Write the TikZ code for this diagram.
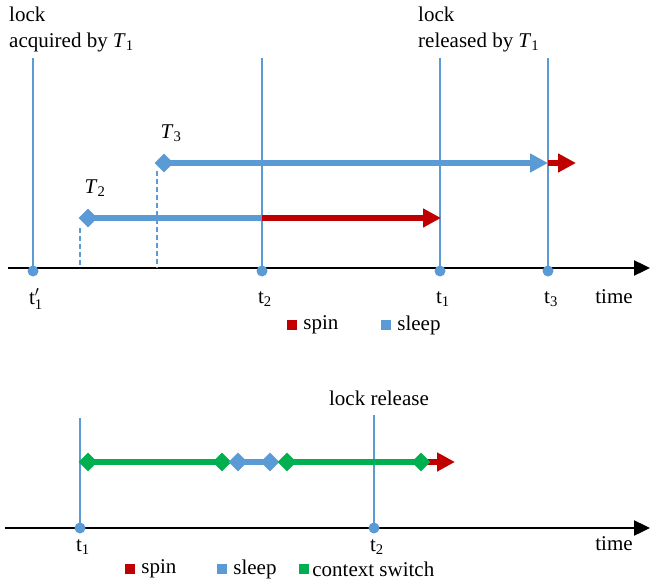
\documentclass[tikz,border=0pt]{standalone}
\usepackage{fontspec}
\setmainfont{Liberation Serif}
\usetikzlibrary{arrows.meta,shapes.geometric,positioning}
\definecolor{lkblue}{HTML}{5B9BD5}
\definecolor{lkred}{HTML}{C00000}
\definecolor{lkgreen}{HTML}{00B050}

\begin{document}
\begin{tikzpicture}[x=1pt, y=-1pt,
  font=\fontsize{21}{26}\selectfont,
  axis/.style={line width=2.4pt, -{Triangle[length=16pt,width=15pt]}},
  vline/.style={lkblue, line width=2.4pt},
  guide/.style={lkblue, line width=1.2pt, dashed, dash pattern=on 5pt off 3pt},
  dot/.style={circle, fill=lkblue, inner sep=0pt, minimum size=11pt},
  start/.style={diamond, fill=#1, inner sep=0pt, minimum size=19pt},
  seg/.style={#1, line width=6pt},
  tipseg/.style={#1, line width=6pt, -{Triangle[length=18pt,width=18pt]}},
  key/.style={fill=#1, inner sep=0pt, minimum size=10pt},
  lbl/.style={inner sep=1pt}
]
\useasboundingbox (0,0) rectangle (650,580);

% ---------- upper timeline
\coordinate (ax0) at (8,268);
\coordinate (ax1) at (650,268);
\draw[axis] (ax0) -- (ax1);

\node[dot] (p1) at (33,271) {};
\node[dot] (p2) at (262,271) {};
\node[dot] (p3) at (440,271) {};
\node[dot] (p4) at (548,271) {};
\coordinate (q1) at (33,58);
\coordinate (q2) at (262,58);
\coordinate (q3) at (440,58);
\coordinate (q4) at (548,58);
\foreach \i in {1,...,4}
  \draw[vline] (q\i) -- (p\i.center);

\node[lbl, anchor=north west, align=left] (acq) at (8,6)
  {lock\\acquired by \textit{T}\textsubscript{1}};
\node[lbl, anchor=north west, align=left] (rel) at (417,6)
  {lock\\released by \textit{T}\textsubscript{1}};

\node[lbl] (lp1) at (36,299) {$\mathrm{t}'_{\mathrm{1}}$};
\node[lbl] (lp2) at (265,299) {t\textsubscript{2}};
\node[lbl] (lp3) at (443,299) {t\textsubscript{1}};
\node[lbl] (lp4) at (551,299) {t\textsubscript{3}};
\node[lbl] (time1) at (614,297) {time};

% T2 and T3
\coordinate (s2) at (262,218);
\coordinate (e2) at (441,218);
\coordinate (s3) at (548,163);
\coordinate (e3) at (576,163);
\coordinate (g2) at (80,228);
\coordinate (g3) at (157,171);
\draw[guide] (g2) -- (g2 |- ax0);
\draw[guide] (g3) -- (g3 |- ax0);
\coordinate (d2) at (88,218);
\coordinate (d3) at (164,163);
\draw[seg=lkblue] (d2) -- (s2);
\draw[tipseg=lkred] (s2) -- (e2);
\draw[tipseg=lkblue] (d3) -- (s3);
\draw[tipseg=lkred] (s3) -- (e3);
\node[start=lkblue] (m2) at (d2) {};
\node[start=lkblue] (m3) at (d3) {};
\node[lbl] (t2) at (95,188) {\textit{T}\textsubscript{2}};
\node[lbl] (t3) at (171,133) {\textit{T}\textsubscript{3}};

% legend
\node[key=lkred] (kspin) at (292,325) {};
\node[lbl, right=5pt of kspin] {spin};
\node[key=lkblue] (ksleep) at (386,325) {};
\node[lbl, right=5pt of ksleep] {sleep};

% ---------- lower timeline
\coordinate (bx0) at (5,528);
\coordinate (bx1) at (650,528);
\draw[axis] (bx0) -- (bx1);

\node[dot] (r1) at (80,528) {};
\node[dot] (r2) at (374,528) {};
\coordinate (u1) at (80,418);
\coordinate (u2) at (374,415);
\draw[vline] (u1) -- (r1.center);
\draw[vline] (u2) -- (r2.center);
\node[lbl] (lrel) at (379,398) {lock release};

\node[lbl] (lr1) at (83,547) {t\textsubscript{1}};
\node[lbl] (lr2) at (377,547) {t\textsubscript{2}};
\node[lbl] (time2) at (614,544) {time};

\coordinate (c1) at (88,462);
\coordinate (c2) at (222,462);
\coordinate (w1) at (238,462);
\coordinate (w2) at (270,462);
\coordinate (c3) at (287,462);
\coordinate (c4) at (421,462);
\coordinate (e4) at (455,462);
\draw[seg=lkgreen] (c1) -- (c2);
\draw[seg=lkblue] (w1) -- (w2);
\draw[seg=lkgreen] (c3) -- (c4);
\draw[tipseg=lkred] (c4) -- (e4);
\foreach \n/\c in {c1/lkgreen,c2/lkgreen,w1/lkblue,w2/lkblue,c3/lkgreen,c4/lkgreen}
  \node[start=\c] (m\n) at (\n) {};

% legend
\node[key=lkred] (kspin2) at (130,569) {};
\node[lbl, right=5pt of kspin2] {spin};
\node[key=lkblue] (ksleep2) at (222,569) {};
\node[lbl, right=5pt of ksleep2] {sleep};
\node[key=lkgreen] (kcs) at (304,569) {};
\node[lbl, right=2pt of kcs] {context switch};
\end{tikzpicture}
\end{document}
